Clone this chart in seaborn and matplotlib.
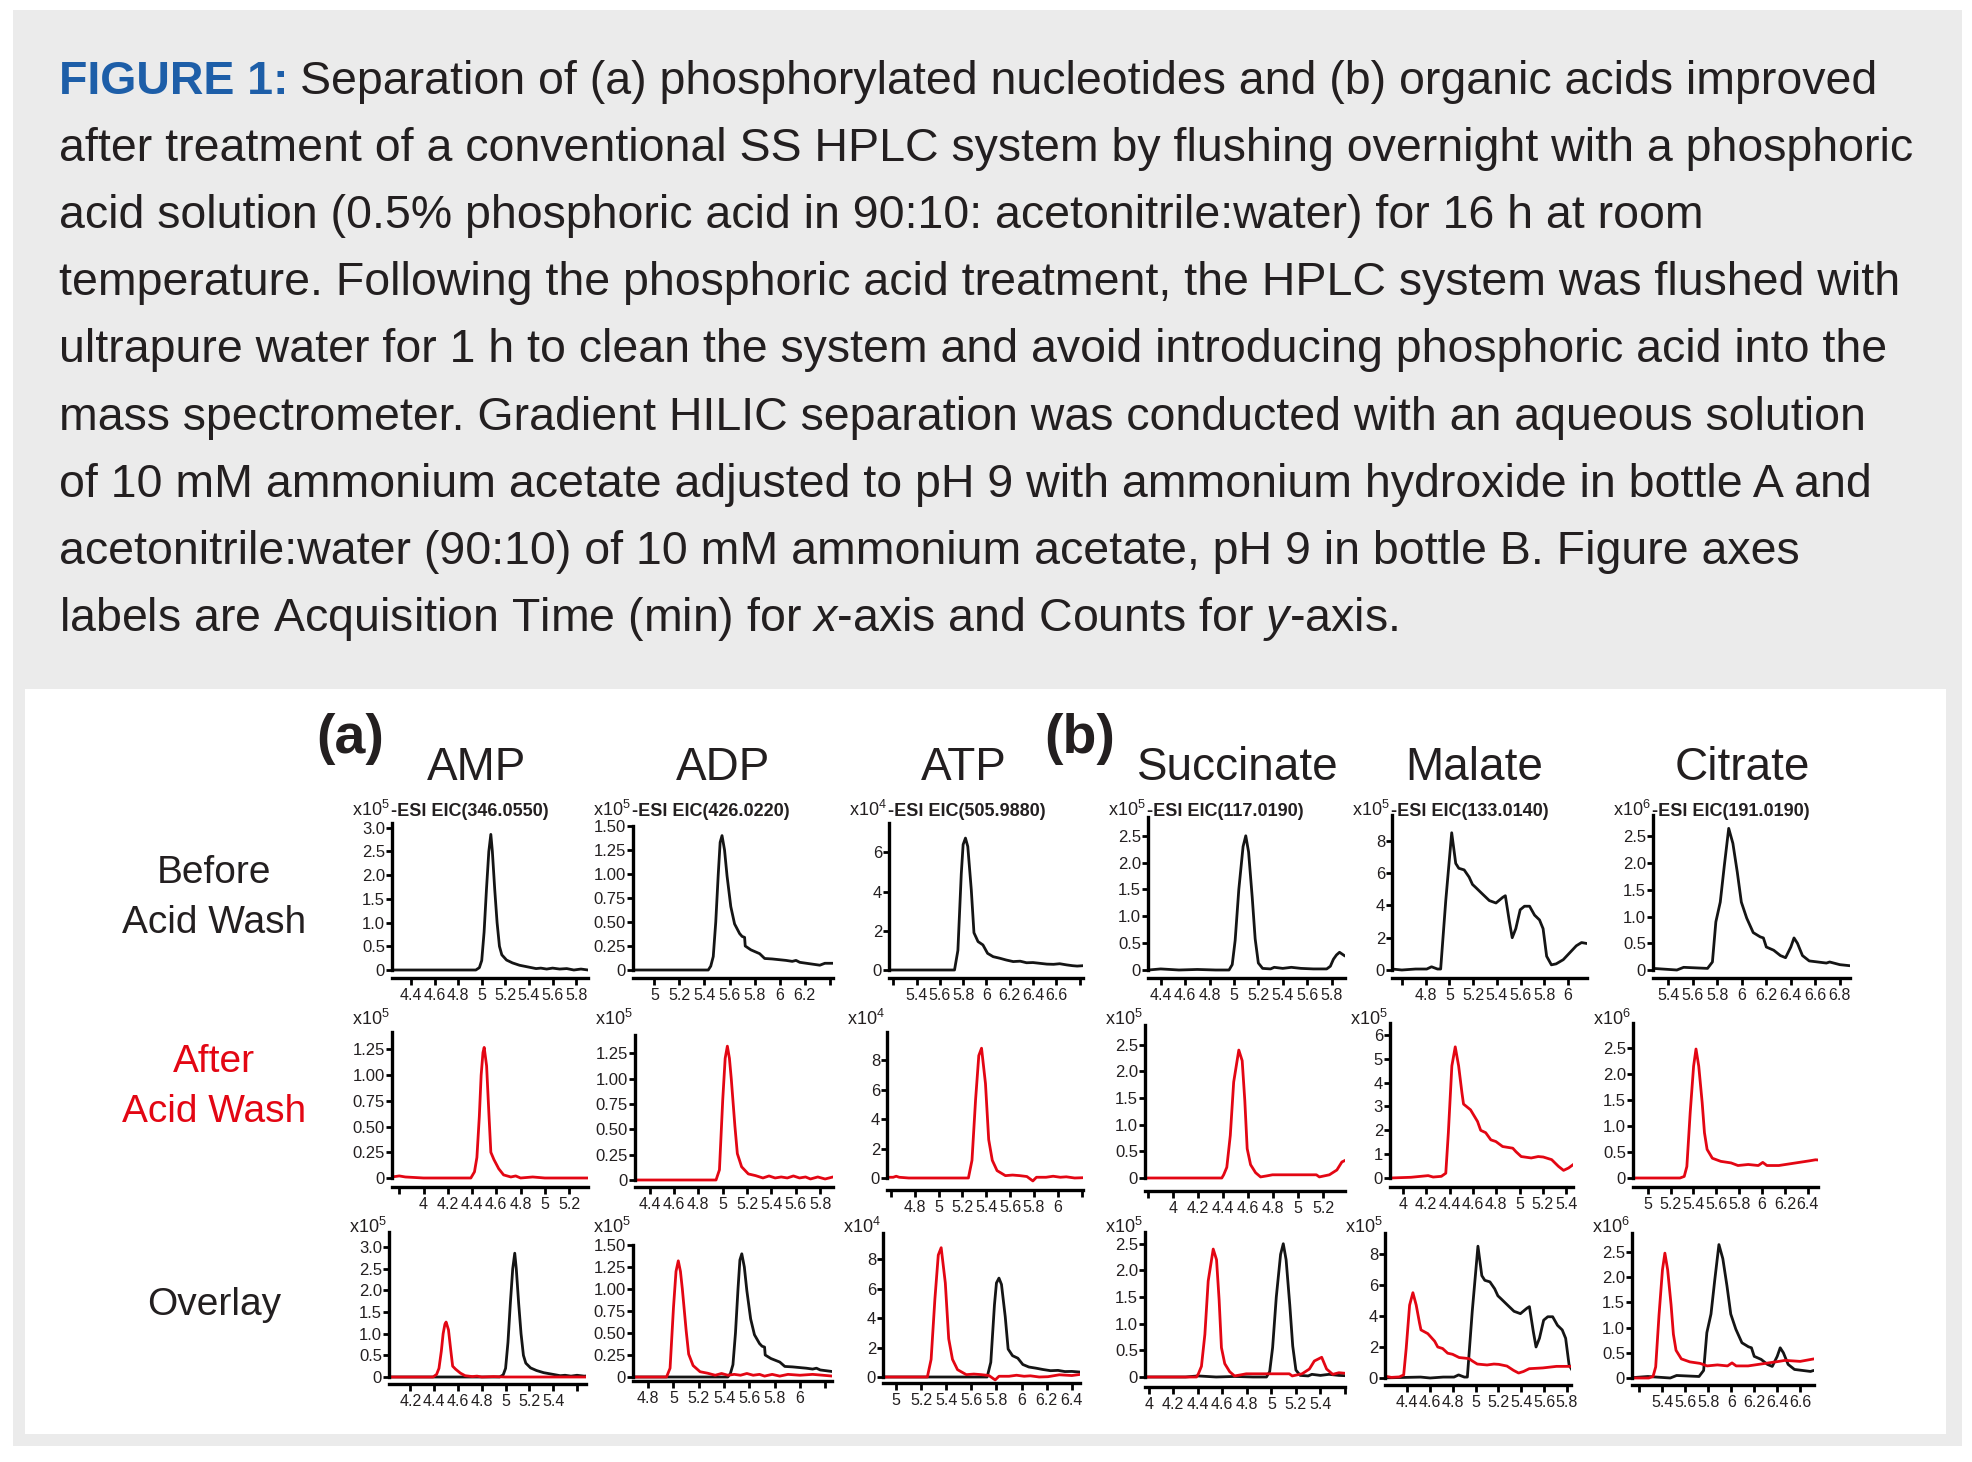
import numpy as np
import matplotlib
matplotlib.use("Agg")
import matplotlib.pyplot as plt
import seaborn as sns
from matplotlib.patches import Rectangle

sns.set_style("ticks")
plt.rcParams["font.family"] = ["Liberation Sans", "DejaVu Sans"]
plt.rcParams["mathtext.fontset"] = "custom"
plt.rcParams["mathtext.rm"] = "Liberation Sans"
plt.rcParams["mathtext.it"] = "Liberation Sans:italic"
plt.rcParams["mathtext.bf"] = "Liberation Sans:bold"

W, H = 1972, 1462
RED = "#e30613"
BLACK = "#151515"
BLUE = "#1d5ea8"
GREY_BG = "#ebebeb"
TEXT = "#231f20"

# ---- chromatogram traces (time in min, counts in units of x10^EXPONENT) ----
AMP_BEFORE_T = [4.00, 4.95, 4.98, 5.00, 5.02, 5.04, 5.06, 5.077, 5.09, 5.11, 5.13, 5.15, 5.17,
                5.21, 5.26, 5.32, 5.40, 5.46, 5.50, 5.55, 5.60, 5.66, 5.72, 5.78, 5.84, 5.90]
AMP_BEFORE_Y = [0.0, 0.0, 0.05, 0.2, 0.8, 1.7, 2.5, 2.86, 2.5, 1.7, 1.0, 0.5, 0.32,
                0.21, 0.15, 0.10, 0.06, 0.03, 0.04, 0.02, 0.04, 0.02, 0.03, 0.0, 0.02, 0.0]
AMP_AFTER_T = [3.74, 3.80, 3.85, 4.00, 4.20, 4.39, 4.42, 4.44, 4.46, 4.475, 4.49, 4.50, 4.52, 4.54,
               4.555, 4.58, 4.62, 4.66, 4.72, 4.76, 4.80, 4.90, 5.00, 5.10, 5.20, 5.35, 5.50, 5.70]
AMP_AFTER_Y = [0.01, 0.02, 0.01, 0.0, 0.0, 0.0, 0.06, 0.2, 0.6, 1.0, 1.22, 1.27, 1.09, 0.6,
               0.25, 0.18, 0.09, 0.03, 0.01, 0.02, 0.0, 0.01, 0.0, 0.0, 0.0, 0.0, 0.0, 0.0]

ADP_BEFORE_T = [4.65, 5.43, 5.45, 5.47, 5.49, 5.51, 5.525, 5.54, 5.56, 5.58, 5.61, 5.64, 5.68, 5.70,
                5.72, 5.725, 5.77, 5.84, 5.88, 5.94, 6.05, 6.10, 6.13, 6.16, 6.24, 6.32, 6.36, 6.43]
ADP_BEFORE_Y = [0.0, 0.0, 0.04, 0.14, 0.5, 1.0, 1.33, 1.40, 1.25, 0.98, 0.66, 0.48, 0.38, 0.35,
                0.34, 0.25, 0.21, 0.17, 0.12, 0.115, 0.10, 0.09, 0.10, 0.08, 0.065, 0.05, 0.07, 0.07]
ADP_AFTER_T = [4.28, 4.60, 4.945, 4.973, 5.00, 5.02, 5.038, 5.055, 5.07, 5.10, 5.12, 5.155, 5.21,
               5.27, 5.33, 5.38, 5.43, 5.48, 5.53, 5.58, 5.63, 5.68, 5.72, 5.78, 5.84, 5.905,
               6.00, 6.10, 6.26]
ADP_AFTER_Y = [0.0, 0.0, 0.0, 0.1, 0.79, 1.2, 1.32, 1.2, 1.0, 0.53, 0.26, 0.13, 0.06,
               0.043, 0.02, 0.04, 0.02, 0.03, 0.02, 0.04, 0.02, 0.03, 0.01, 0.03, 0.01, 0.03,
               0.02, 0.03, 0.01]

ATP_BEFORE_T = [4.85, 5.726, 5.755, 5.784, 5.80, 5.82, 5.84, 5.87, 5.893, 5.928, 5.97, 6.01, 6.058,
                6.115, 6.17, 6.23, 6.29, 6.345, 6.40, 6.46, 6.52, 6.577, 6.63, 6.69, 6.74, 6.78, 6.83]
ATP_BEFORE_Y = [0.0, 0.0, 1.0, 4.9, 6.4, 6.73, 6.3, 4.1, 1.9, 1.45, 1.28, 0.85, 0.68,
                0.6, 0.51, 0.43, 0.45, 0.37, 0.38, 0.34, 0.30, 0.29, 0.32, 0.26, 0.22, 0.2, 0.22]
ATP_AFTER_T = [4.568, 4.62, 4.645, 4.67, 4.75, 5.25, 5.28, 5.31, 5.337, 5.36, 5.393, 5.42, 5.45,
               5.49, 5.56, 5.62, 5.68, 5.74, 5.79, 5.82, 5.90, 5.96, 6.02, 6.07, 6.14, 6.21,
               6.30, 6.40, 6.47]
ATP_AFTER_Y = [0.05, 0.05, 0.12, 0.05, 0.0, 0.0, 1.2, 5.3, 8.3, 8.8, 6.4, 2.6, 1.2,
               0.5, 0.16, 0.2, 0.16, 0.1, -0.2, 0.05, 0.05, 0.12, 0.05, 0.08, 0.0, 0.02,
               0.15, 0.1, 0.18]

SUCC_BEFORE_T = [3.95, 4.30, 4.40, 4.55, 4.70, 4.85, 4.96, 4.986, 5.01, 5.04, 5.075, 5.097, 5.12,
                 5.15, 5.174, 5.20, 5.235, 5.30, 5.33, 5.40, 5.47, 5.55, 5.65, 5.76, 5.79, 5.815,
                 5.84, 5.865, 5.91]
SUCC_BEFORE_Y = [0.0, 0.0, 0.02, 0.0, 0.01, 0.0, 0.0, 0.1, 0.55, 1.5, 2.3, 2.5, 2.2,
                 1.35, 0.58, 0.13, 0.03, 0.02, 0.05, 0.03, 0.05, 0.03, 0.02, 0.02, 0.07, 0.2,
                 0.28, 0.33, 0.26]
SUCC_AFTER_T = [3.776, 4.00, 4.20, 4.39, 4.405, 4.43, 4.458, 4.485, 4.526, 4.553, 4.574, 4.593,
                4.62, 4.66, 4.70, 4.75, 4.795, 4.90, 5.00, 5.146, 5.17, 5.25, 5.31, 5.35, 5.41,
                5.45, 5.50, 5.55, 5.60]
SUCC_AFTER_Y = [0.0, 0.0, 0.0, 0.0, 0.06, 0.2, 0.8, 1.8, 2.4, 2.2, 1.45, 0.55,
                0.25, 0.1, 0.02, 0.04, 0.06, 0.06, 0.06, 0.06, 0.02, 0.06, 0.15, 0.3, 0.37,
                0.15, 0.05, 0.08, 0.07]

MAL_BEFORE_T = [4.15, 4.517, 4.60, 4.715, 4.81, 4.85, 4.90, 4.927, 4.97, 5.02, 5.054, 5.08, 5.125,
                5.167, 5.195, 5.224, 5.28, 5.337, 5.393, 5.45, 5.472, 5.506, 5.53, 5.56, 5.597,
                5.633, 5.676, 5.718, 5.76, 5.79, 5.82, 5.86, 5.90, 5.96, 6.015, 6.07, 6.114, 6.16]
MAL_BEFORE_Y = [0.0, 0.06, 0.0, 0.06, 0.06, 0.2, 0.06, 0.06, 4.3, 8.5, 6.6, 6.3, 6.2,
                5.75, 5.3, 5.1, 4.7, 4.3, 4.15, 4.5, 4.6, 3.0, 2.0, 2.56, 3.73,
                3.95, 3.95, 3.4, 3.1, 2.56, 0.85, 0.32, 0.38, 0.64, 1.07, 1.5, 1.7, 1.64]
MAL_AFTER_T = [3.89, 4.07, 4.217, 4.26, 4.33, 4.368, 4.39, 4.42, 4.449, 4.478, 4.507, 4.52, 4.58,
               4.64, 4.667, 4.71, 4.754, 4.797, 4.855, 4.942, 4.97, 5.014, 5.10, 5.16, 5.203,
               5.275, 5.333, 5.377, 5.42, 5.47, 5.59, 5.71, 5.84]
MAL_AFTER_Y = [0.0, 0.03, 0.1, 0.04, 0.07, 0.2, 1.9, 4.7, 5.5, 4.7, 3.55, 3.1, 2.86,
               2.37, 2.0, 1.9, 1.6, 1.53, 1.32, 1.25, 1.1, 0.9, 0.84, 0.9, 0.88,
               0.77, 0.49, 0.32, 0.42, 0.6, 0.65, 0.75, 0.75]

CIT_BEFORE_T = [5.10, 5.275, 5.47, 5.525, 5.72, 5.76, 5.788, 5.824, 5.857, 5.893, 5.927, 5.963,
                5.996, 6.04, 6.093, 6.15, 6.176, 6.20, 6.26, 6.315, 6.357, 6.40, 6.426, 6.454,
                6.495, 6.55, 6.69, 6.717, 6.80, 6.883]
CIT_BEFORE_Y = [0.0, 0.03, 0.0, 0.05, 0.03, 0.15, 0.9, 1.27, 1.95, 2.65, 2.37, 1.83,
                1.27, 0.97, 0.7, 0.62, 0.6, 0.43, 0.37, 0.27, 0.23, 0.43, 0.6, 0.5,
                0.27, 0.17, 0.13, 0.15, 0.1, 0.08]
CIT_AFTER_T = [4.872, 5.283, 5.32, 5.343, 5.372, 5.402, 5.423, 5.447, 5.477, 5.497, 5.52, 5.566,
               5.64, 5.73, 5.79, 5.88, 5.968, 6.007, 6.043, 6.147, 6.266, 6.355, 6.415, 6.468,
               6.60, 6.72]
CIT_AFTER_Y = [0.0, 0.0, 0.03, 0.22, 1.25, 2.15, 2.48, 2.15, 1.45, 0.87, 0.55, 0.38,
               0.32, 0.29, 0.24, 0.26, 0.24, 0.3, 0.24, 0.24, 0.28, 0.31, 0.33, 0.35,
               0.33, 0.38]

COMPOUNDS = ["AMP", "ADP", "ATP", "Succinate", "Malate", "Citrate"]
EIC_MZ = ["346.0550", "426.0220", "505.9880", "117.0190", "133.0140", "191.0190"]
EXPONENT = [5, 5, 4, 5, 5, 6]
ROW_LABELS = ["Before\nAcid Wash", "After\nAcid Wash", "Overlay"]

BEFORE = [(AMP_BEFORE_T, AMP_BEFORE_Y), (ADP_BEFORE_T, ADP_BEFORE_Y), (ATP_BEFORE_T, ATP_BEFORE_Y),
          (SUCC_BEFORE_T, SUCC_BEFORE_Y), (MAL_BEFORE_T, MAL_BEFORE_Y), (CIT_BEFORE_T, CIT_BEFORE_Y)]
AFTER = [(AMP_AFTER_T, AMP_AFTER_Y), (ADP_AFTER_T, ADP_AFTER_Y), (ATP_AFTER_T, ATP_AFTER_Y),
         (SUCC_AFTER_T, SUCC_AFTER_Y), (MAL_AFTER_T, MAL_AFTER_Y), (CIT_AFTER_T, CIT_AFTER_Y)]

# panel geometry in pixels: left, right, top, zero, bottom
# axis setup: xmin, xmax, first and last labelled x tick, ytop, ystep, decimals
PANELS = [
    [(392, 588, 823, 970, 978, 4.24, 5.90, 4.4, 5.8, 3.1, 0.5, 1),
     (633, 833, 826, 970, 978, 4.83, 6.425, 5.0, 6.2, 1.5, 0.25, 2),
     (889, 1083, 823, 970, 978, 5.163, 6.83, 5.4, 6.6, 7.5, 2, 0),
     (1148, 1345, 817, 970, 978, 4.296, 5.91, 4.4, 5.8, 2.85, 0.5, 1),
     (1392, 1587, 815, 970, 978, 4.517, 6.16, 4.8, 6.0, 9.6, 2, 0),
     (1653, 1850, 815, 970, 978, 5.275, 6.883, 5.4, 6.8, 2.9, 0.5, 1)],
    [(392, 588, 1032, 1178, 1187, 3.74, 5.356, 4.0, 5.2, 1.42, 0.25, 2),
     (635, 833, 1035, 1180, 1187, 4.28, 5.905, 4.4, 5.8, 1.43, 0.25, 2),
     (887, 1083, 1032, 1178, 1190, 4.568, 6.21, 4.8, 6.0, 9.9, 2, 0),
     (1145, 1345, 1025, 1178, 1191, 3.776, 5.375, 4.0, 5.2, 2.87, 0.5, 1),
     (1390, 1573, 1023, 1178, 1187, 3.89, 5.458, 4.0, 5.4, 6.5, 1, 0),
     (1633, 1818, 1023, 1178, 1187, 4.872, 6.49, 5.0, 6.4, 2.98, 0.5, 1)],
    [(389, 586, 1232, 1377, 1384, 4.02, 5.676, 4.2, 5.4, 3.35, 0.5, 1),
     (633, 832, 1245, 1377, 1381, 4.68, 6.253, 4.8, 6.0, 1.5, 0.25, 2),
     (883, 1080, 1233, 1377, 1383, 4.897, 6.465, 5.0, 6.4, 9.8, 2, 0),
     (1145, 1345, 1232, 1377, 1387, 3.97, 5.60, 4.0, 5.4, 2.72, 0.5, 1),
     (1385, 1571, 1233, 1378, 1385, 4.204, 5.837, 4.4, 5.8, 9.35, 2, 0),
     (1632, 1814, 1233, 1378, 1385, 5.137, 6.72, 5.4, 6.6, 2.88, 0.5, 1)],
]
EXP_BASELINE = [816, 1025, 1233]

CAPTION_LINES = [
    "Separation of (a) phosphorylated nucleotides and (b) organic acids improved",
    "after treatment of a conventional SS HPLC system by flushing overnight with a phosphoric",
    "acid solution (0.5% phosphoric acid in 90:10: acetonitrile:water) for 16 h at room",
    "temperature. Following the phosphoric acid treatment, the HPLC system was flushed with",
    "ultrapure water for 1 h to clean the system and avoid introducing phosphoric acid into the",
    "mass spectrometer. Gradient HILIC separation was conducted with an aqueous solution",
    "of 10 mM ammonium acetate adjusted to pH 9 with ammonium hydroxide in bottle A and",
    "acetonitrile:water (90:10) of 10 mM ammonium acetate, pH 9 in bottle B. Figure axes",
    r"labels are Acquisition Time (min) for $\mathit{x}$-axis and Counts for $\mathit{y}$-axis.",
]


def fx(px):
    return px / W


def fy(py):
    return 1 - py / H


fig = plt.figure(figsize=(W / 100, H / 100), dpi=100, facecolor="white")
fig.add_artist(Rectangle((fx(13), fy(1446)), fx(1962) - fx(13), fy(10) - fy(1446),
                         transform=fig.transFigure, facecolor=GREY_BG, edgecolor="none", zorder=0))
fig.add_artist(Rectangle((fx(25), fy(1434)), fx(1946) - fx(25), fy(689) - fy(1434),
                         transform=fig.transFigure, facecolor="white", edgecolor="none", zorder=0))

# caption, font size fitted to the width of the longest line
renderer = fig.canvas.get_renderer()
probe = fig.text(0, 0, CAPTION_LINES[1], fontsize=30)
fs = 30 * 1853 / probe.get_window_extent(renderer).width
probe.remove()
x0, base0, step = 59, 94, 67.1
head = fig.text(fx(x0), fy(base0), "FIGURE 1:", fontsize=fs, fontweight="bold",
                color=BLUE, va="baseline", ha="left")
hw = head.get_window_extent(renderer).width
for i, line in enumerate(CAPTION_LINES):
    xx = x0 + hw + fs * 0.35 if i == 0 else x0
    fig.text(fx(xx), fy(base0 + i * step), line, fontsize=fs, color=TEXT,
             va="baseline", ha="left")

# column headers
fig.text(fx(350), fy(739), "(a)", fontsize=40, fontweight="bold", color=TEXT, ha="center", va="center")
fig.text(fx(1080), fy(739), "(b)", fontsize=40, fontweight="bold", color=TEXT, ha="center", va="center")
for name, cx in zip(COMPOUNDS, [477, 723, 964, 1238, 1474, 1742]):
    fig.text(fx(cx), fy(780), name, fontsize=33, color=TEXT, ha="center", va="baseline")

# row labels
for lab, cy, col in zip(ROW_LABELS, [898, 1087, 1305], [TEXT, RED, TEXT]):
    fig.text(fx(214), fy(cy), lab, fontsize=28, color=col, ha="center", va="center",
             multialignment="center", linespacing=1.5)

for r, row in enumerate(PANELS):
    for c, (left, right, top, zero, bottom, xmin, xmax, xfirst, xlast,
            ytop, ystep, dec) in enumerate(row):
        ax = fig.add_axes([fx(left), fy(bottom), fx(right) - fx(left), fy(top) - fy(bottom)])
        ax.patch.set_alpha(0)
        ybot = -ytop * (bottom - zero) / (zero - top)
        if r in (0, 2):
            t, y = BEFORE[c]
            sns.lineplot(x=t, y=y, ax=ax, color=BLACK, lw=2.0, sort=False, estimator=None)
        if r in (1, 2):
            t, y = AFTER[c]
            sns.lineplot(x=t, y=y, ax=ax, color=RED, lw=2.0, sort=False, estimator=None)
        ax.set_xlim(xmin, xmax)
        ax.set_ylim(ybot, ytop)
        ax.set_xlabel("")
        ax.set_ylabel("")

        xt = np.arange(np.ceil(xmin * 5 - 1e-9), np.floor(xmax * 5 + 1e-9) + 1) / 5
        ax.set_xticks(xt)
        ax.set_xticklabels([f"{v:g}" if xfirst - 1e-6 < v < xlast + 1e-6 else "" for v in xt])
        yt = np.arange(0, ytop + 1e-9, ystep)
        ax.set_yticks(yt)
        ax.set_yticklabels(["0" if v == 0 else f"{v:.{dec}f}" for v in yt])

        sns.despine(ax=ax)
        ax.spines["left"].set_bounds(0, ytop)
        for s in ("left", "bottom"):
            ax.spines[s].set_linewidth(2.4)
            ax.spines[s].set_color("black")
        ax.tick_params(axis="x", direction="out", length=5, width=2, labelsize=11.5,
                       pad=2, colors="black", labelcolor=TEXT)
        ax.tick_params(axis="y", direction="out", length=4, width=2, labelsize=12,
                       pad=1, colors="black", labelcolor=TEXT)

        # exponent and EIC title
        fig.text(fx(left - 40), fy(EXP_BASELINE[r]), "x10$^{%d}$" % EXPONENT[c], fontsize=13,
                 color=TEXT, ha="left", va="baseline")
        if r == 0:
            fig.text(fx(left - 1), fy(EXP_BASELINE[r]), "-ESI EIC(%s)" % EIC_MZ[c], fontsize=13,
                     fontweight="bold", color=TEXT, ha="left", va="baseline")

fig.savefig("out.png", dpi=100, facecolor="white")
